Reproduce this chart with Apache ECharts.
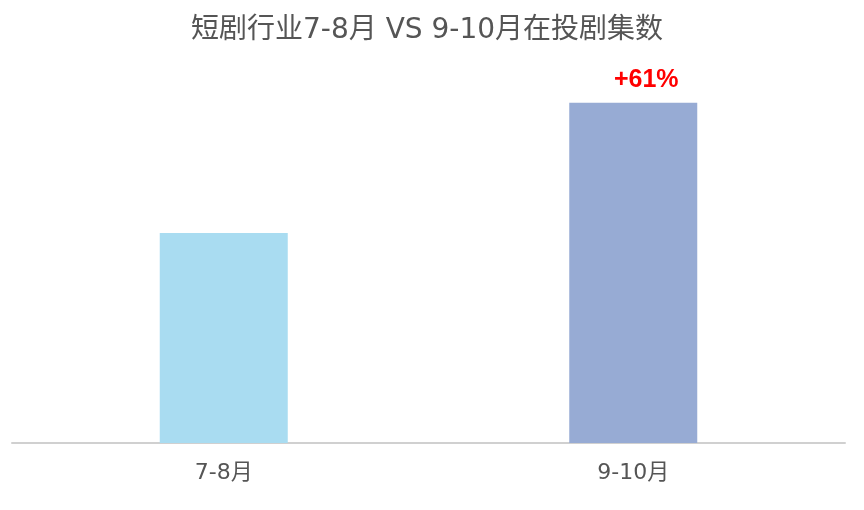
<!DOCTYPE html>
<html><head><meta charset="utf-8">
<script src="https://cdn.jsdelivr.net/npm/echarts@6/dist/echarts.min.js"></script>
<style>html,body{margin:0;padding:0;background:#fff}#c{width:864px;height:510px}</style>
</head><body><div id="c"></div>
<script>
const categories = ['7-8月', '9-10月'];
const values = [100, 162];
const barColors = ['#A9DCF1', '#97ABD4'];
const growthLabel = '+61%';

const FONT = '"DejaVu Sans", "Noto Sans CJK SC", sans-serif';
const chart = echarts.init(document.getElementById('c'));
chart.setOption({
  animation: false,
  backgroundColor: '#fff',
  title: {
    text: '短剧行业7-8月 VS 9-10月在投剧集数',
    left: 186, top: 12,
    textStyle: { fontFamily: FONT, fontSize: 28, fontWeight: 'normal', color: '#555' }
  },
  grid: [
    { left: 12, right: 19, top: 23, bottom: 67 },
    { left: 19, right: 26, top: 23, bottom: 67 }
  ],
  xAxis: [
    { type: 'category', gridIndex: 0, data: categories,
      axisLine: { lineStyle: { color: '#d0d0d0', width: 2 } },
      axisTick: { show: false }, axisLabel: { show: false } },
    { type: 'category', gridIndex: 1, data: categories,
      axisLine: { show: false }, axisTick: { show: false },
      axisLabel: { color: '#555', fontSize: 22, margin: 19, fontFamily: FONT } }
  ],
  yAxis: [
    { type: 'value', gridIndex: 0, min: 0, max: 200, show: false },
    { type: 'value', gridIndex: 1, min: 0, max: 200, show: false }
  ],
  series: [{
    type: 'bar', barWidth: 128, xAxisIndex: 1, yAxisIndex: 1,
    data: values.map((v, i) => ({
      value: v,
      itemStyle: { color: barColors[i] },
      label: i === 1 ? {
        show: true, position: 'top', formatter: growthLabel, offset: [13, -5],
        color: '#FF0000', fontSize: 25, fontWeight: 'bold', fontFamily: 'Liberation Sans'
      } : { show: false }
    }))
  }]
});
</script></body></html>
